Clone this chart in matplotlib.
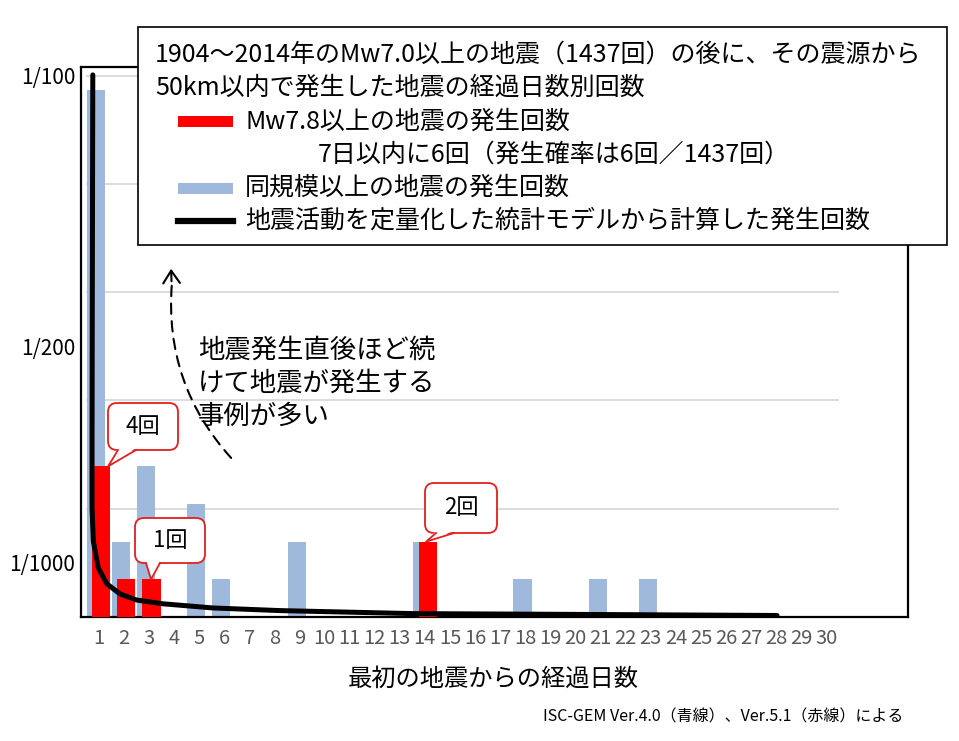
import numpy as np
import matplotlib
matplotlib.use("Agg")
import matplotlib.pyplot as plt
from matplotlib.patches import FancyBboxPatch, Polygon, Rectangle, FancyArrowPatch
from matplotlib.lines import Line2D
from matplotlib.transforms import IdentityTransform

plt.rcParams['font.family'] = ['Noto Sans CJK JP', 'DejaVu Sans']

# データ
N_TOTAL = 1437
days = np.arange(1, 31)
blue_counts = [14, 2, 4, 0, 3, 1, 0, 0, 2, 0, 0, 0, 0, 2, 0,
               0, 0, 1, 0, 0, 1, 0, 1, 0, 0, 0, 0, 0, 0, 0]
red_counts = [4, 1, 1, 0, 0, 0, 0, 0, 0, 0, 0, 0, 0, 2, 0,
              0, 0, 0, 0, 0, 0, 0, 0, 0, 0, 0, 0, 0, 0, 0]
model_days = [0.77, 0.75, 0.74, 0.74, 0.79, 0.99, 1.33, 1.86, 2.52,
              3.57, 5.56, 8.23, 13.53, 20.98, 28.03]
model_counts = [14.39, 8.40, 4.68, 2.90, 2.02, 1.30, 0.88, 0.61, 0.45,
                0.35, 0.24, 0.17, 0.09, 0.066, 0.04]
prob_ticks = [100, 200, 1000]

RED = '#ff0000'
BLUE = '#9fb9dc'
EDGE_RED = '#e3201e'

W, H = 959, 741
fig = plt.figure(figsize=(W / 100, H / 100), dpi=100)
ax = fig.add_axes([81 / W, 1 - 617 / H, (908 - 81) / W, (617 - 67) / H])
ident = IdentityTransform()

def py(y):
    # 画像座標(上から) -> 表示座標(下から)
    return H - y

# グリッド（確率 0.002 刻み）
for k in range(1, 6):
    ax.hlines(N_TOTAL * 0.002 * k, 0.5, 30.5, color='#d9d9d9', lw=1.3, zorder=0)

ax.bar(days - 0.11, blue_counts, width=0.72, color=BLUE, zorder=2)
ax.bar(days + 0.11, red_counts, width=0.72, color=RED, zorder=3)
ax.plot(model_days, model_counts, color='black', lw=3.6, zorder=4,
        solid_capstyle='round')

ax.set_xlim(0.30, 33.25)
ax.set_ylim(0, 14.6)
ax.set_xticks(days)
ax.set_xticklabels([str(d) for d in days], fontsize=14.5, color='#595959')
ax.set_yticks([N_TOTAL / n for n in prob_ticks])
ax.set_yticklabels([f"1/{n}" for n in prob_ticks], fontsize=15)
ax.tick_params(axis='both', length=0)
ax.tick_params(axis='x', pad=8)
ax.tick_params(axis='y', pad=4)
for sp in ax.spines.values():
    sp.set_linewidth(1.6)
    sp.set_color('black')

# 凡例ボックス
fig.add_artist(Rectangle((138, py(245)), 947 - 138, 245 - 27, fc='white',
                         ec='black', lw=1.2, transform=ident, zorder=5))
legend_fs = 18
fig.text(155 / W, 1 - 55 / H, "1904～2014年のMw7.0以上の地震（1437回）の後に、その震源から",
         fontsize=legend_fs, va='center', zorder=6)
fig.text(155 / W, 1 - 88 / H, "50km以内で発生した地震の経過日数別回数",
         fontsize=legend_fs, va='center', zorder=6)
fig.add_artist(Rectangle((178, py(127)), 55, 11, fc=RED, ec='none',
                         transform=ident, zorder=6))
fig.text(245 / W, 1 - 122 / H, "Mw7.8以上の地震の発生回数",
         fontsize=legend_fs, va='center', zorder=6)
fig.text(318 / W, 1 - 155 / H, "7日以内に6回（発生確率は6回／1437回）",
         fontsize=legend_fs, va='center', zorder=6)
fig.add_artist(Rectangle((178, py(194)), 55, 11, fc=BLUE, ec='none',
                         transform=ident, zorder=6))
fig.text(245 / W, 1 - 188 / H, "同規模以上の地震の発生回数",
         fontsize=legend_fs, va='center', zorder=6)
fig.add_artist(Line2D([178, 233], [py(221), py(221)], color='black', lw=4.5,
                      transform=ident, zorder=6))
fig.text(245 / W, 1 - 221 / H, "地震活動を定量化した統計モデルから計算した発生回数",
         fontsize=legend_fs, va='center', zorder=6)

# 吹き出し
def callout(label, box, tip, base):
    x0, y0, x1, y1 = box
    fig.add_artist(FancyBboxPatch((x0, py(y1)), x1 - x0, y1 - y0,
                                  boxstyle='round,pad=0,rounding_size=9',
                                  fc='white', ec=EDGE_RED, lw=1.3,
                                  transform=ident, zorder=6))
    tx, ty = ax.transData.transform(tip)
    bl, br = base
    fig.add_artist(Polygon([(bl, py(y1) + 2), (br, py(y1) + 2), (tx, ty)],
                           closed=True, fc='white', ec='none',
                           transform=ident, zorder=7))
    fig.add_artist(Line2D([bl, tx, br], [py(y1), ty, py(y1)], color=EDGE_RED,
                          lw=1.3, transform=ident, zorder=8))
    fig.text((x0 + x1) / 2 / W, 1 - (y0 + y1) / 2 / H, label, fontsize=16,
             ha='center', va='center', zorder=9)

callout("4回", (108, 403, 178, 450), (1.38, red_counts[0]), (118, 136))
callout("1回", (135, 518, 205, 563), (3.09, red_counts[2]), (146, 160))
callout("2回", (425, 483, 497, 533), (14.05, red_counts[13]), (436, 454))

# 注記と破線矢印
note_lines = ["地震発生直後ほど続", "けて地震が発生する", "事例が多い"]
for i, line in enumerate(note_lines):
    fig.text(198 / W, 1 - (350 + 33 * i) / H, line, fontsize=19, va='center')

fig.add_artist(FancyArrowPatch(posA=(233, py(460)), posB=(172, py(282)),
                               connectionstyle='arc3,rad=-0.22', arrowstyle='-',
                               linestyle=(0, (5, 3.5)), lw=1.5, color='black',
                               transform=ident, zorder=6))
fig.add_artist(FancyArrowPatch(posA=(171.6, py(284)), posB=(171, py(266)),
                               arrowstyle='->,head_length=0.45,head_width=0.3',
                               mutation_scale=20, lw=1.5, color='black',
                               transform=ident, zorder=6))

# 軸ラベルと出典
fig.text(493 / W, 1 - 679 / H, "最初の地震からの経過日数", fontsize=17.5,
         ha='center', va='center')
fig.text(903 / W, 1 - 717 / H, "ISC-GEM Ver.4.0（青線）、Ver.5.1（赤線）による",
         fontsize=11.5, ha='right', va='center')

fig.savefig("out.png", dpi=100)
